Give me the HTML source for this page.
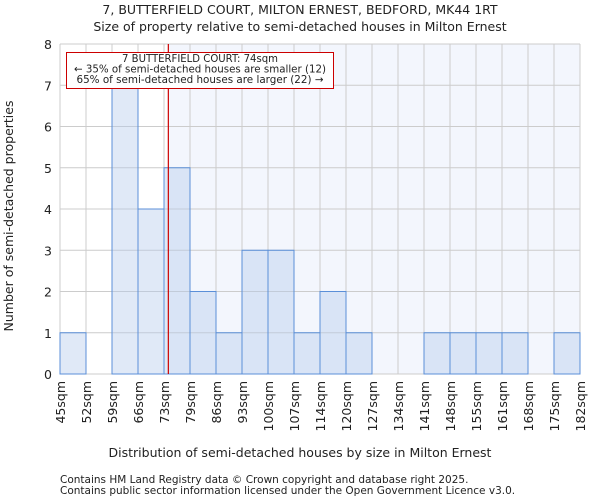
<!DOCTYPE html>
<html><head><meta charset="utf-8"><style>
body{margin:0;background:#fff;font-family:"DejaVu Sans","Liberation Sans",sans-serif;}
svg text{font-family:"DejaVu Sans","Liberation Sans",sans-serif;fill:#222;}
</style></head><body>
<svg id="c" width="600" height="500" viewBox="0 0 600 500">
<text x="300" y="14" text-anchor="middle" font-size="12.5">7, BUTTERFIELD COURT, MILTON ERNEST, BEDFORD, MK44 1RT</text>
<text x="300" y="31" text-anchor="middle" font-size="12.5">Size of property relative to semi-detached houses in Milton Ernest</text>
<g id="plot"></g>
<text x="300" y="457" text-anchor="middle" font-size="12.5">Distribution of semi-detached houses by size in Milton Ernest</text>
<text transform="translate(13,216) rotate(-90)" text-anchor="middle" font-size="12.5">Number of semi-detached properties</text>
<text x="60" y="483" font-size="10.5">Contains HM Land Registry data © Crown copyright and database right 2025.</text>
<text x="60" y="494" font-size="10.5">Contains public sector information licensed under the Open Government Licence v3.0.</text>
</svg>
<script>
const binLabels=["45sqm","52sqm","59sqm","66sqm","73sqm","79sqm","86sqm","93sqm","100sqm","107sqm","114sqm","120sqm","127sqm","134sqm","141sqm","148sqm","155sqm","161sqm","168sqm","175sqm","182sqm"];
const binEdges=[45,52,59,66,73,79,86,93,100,107,114,120,127,134,141,148,155,161,168,175,182];
const counts=[1,0,7,4,5,2,1,3,3,1,2,1,0,0,1,1,1,1,0,1];
const yTicks=[0,1,2,3,4,5,6,7,8];
const subjectSize=74;
const annotationLines=["7 BUTTERFIELD COURT: 74sqm","← 35% of semi-detached houses are smaller (12)","65% of semi-detached houses are larger (22) →"];
const NS="http://www.w3.org/2000/svg";
const L=60,R=580,T=44,B=374;
const n=counts.length,bw=(R-L)/n;
const xi=i=>L+i*bw;
const xv=v=>{for(let i=0;i<n;i++){if(v>=binEdges[i]&&v<=binEdges[i+1])return xi(i)+(v-binEdges[i])/(binEdges[i+1]-binEdges[i])*bw;}return L;};
const y=v=>B-(v/8)*(B-T);
const g=document.getElementById('plot');
function mk(t,a){const e=document.createElementNS(NS,t);for(const k in a)e.setAttribute(k,a[k]);g.appendChild(e);return e;}
const sx=xv(subjectSize);
let e=mk('rect',{x:sx,y:T,width:R-sx,height:B-T,fill:'#f3f6fd'});


yTicks.forEach(t=>{let l=mk('line',{x1:L,x2:R,y1:y(t),y2:y(t),stroke:'#cccccc','stroke-width':1});


let tx=mk('text',{x:L-8,y:y(t)+5,'text-anchor':'end','font-size':12.5});tx.textContent=t;

});
binLabels.forEach((s,i)=>{let l=mk('line',{x1:xi(i),x2:xi(i),y1:T,y2:B,stroke:'#cccccc','stroke-width':1});


let tx=mk('text',{transform:`translate(${xi(i)+5},${B+7}) rotate(-90)`,'text-anchor':'end','font-size':12.5});tx.textContent=s;

});
counts.forEach((c,i)=>{if(c<=0)return;let r=mk('rect',{x:xi(i),y:y(c),width:bw,height:B-y(c),fill:'rgba(180,202,235,0.42)',stroke:'#5b8fd8','stroke-width':1});

});
e=mk('line',{x1:sx,x2:sx,y1:T,y2:B,stroke:'#cc0000','stroke-width':1.2});


e=mk('rect',{x:66.5,y:52.5,width:267,height:36,fill:'#fff',stroke:'#cc0000','stroke-width':1});


annotationLines.forEach((s,i)=>{let tx=mk('text',{x:200,y:62+i*10.5,'text-anchor':'middle','font-size':10.4,'textLength':i==0?156:(i==1?252:247),'lengthAdjust':'spacingAndGlyphs'});tx.textContent=s;

});
</script>
</body></html>
